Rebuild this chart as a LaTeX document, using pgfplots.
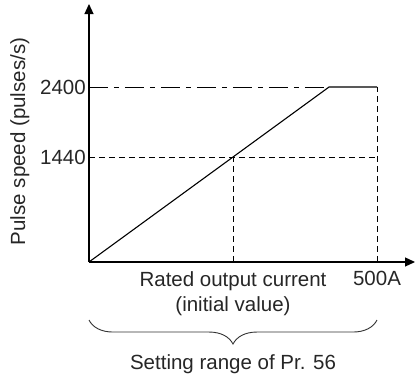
\documentclass[border=0pt]{standalone}
\usepackage{pgfplots}
\pgfplotsset{compat=1.18}
\usepackage{fontspec}
\setmainfont{Liberation Sans}
\usetikzlibrary{arrows.meta,decorations.pathreplacing}
\begin{document}
\begin{tikzpicture}[font=\fontsize{20.5}{25}\selectfont]
\useasboundingbox (-89pt,-118pt) rectangle (327pt,262pt);
\begin{axis}[
  at={(0,0)}, anchor=south west,
  x=0.576pt, y=0.0729pt,
  xmin=0, xmax=566, ymin=0, ymax=3539,
  axis lines=left,
  axis line style={line width=1.2pt, -{Triangle[length=10pt,width=9pt]}},
  enlargelimits=false,
  clip=false,
  major tick length=0pt,
  /pgf/number format/assume math mode=true,
  ytick={1440,2400},
  yticklabels={1440,2400},
  yticklabel style={anchor=east, inner sep=0pt, xshift=-3pt},
  xtick={250,500},
  xticklabels={{Rated output current\\(initial value)},{500A}},
  xticklabel style={anchor=north, inner sep=0pt, yshift=-9pt, align=center, text=black!85},
  yticklabel style={text=black!85},
  ylabel={Pulse speed (pulses/s)},
  ylabel style={at={(axis cs:-111,1653)}, anchor=base, rotate=0, text=black!85},
]
\addplot[black, line width=1pt, dash pattern=on 19pt off 6pt on 5pt off 6pt] coordinates {(0,2400) (416.67,2400)};
\addplot[black, line width=0.9pt, dash pattern=on 6pt off 4pt] coordinates {(0,1440) (500,1440)};
\addplot[black, line width=0.9pt, dash pattern=on 6pt off 4pt] coordinates {(250,0) (250,1440)};
\addplot[black, line width=0.9pt, dash pattern=on 6pt off 4pt] coordinates {(500,0) (500,2400)};
\addplot[black, line width=1.1pt] coordinates {(0,0) (416.67,2400) (500,2400)};
\draw[black!80, line width=0.9pt, decorate, decoration={brace, mirror, amplitude=24pt}] (axis cs:0,-796) -- (axis cs:500,-796);
\node[anchor=base, text=black!85] at (axis cs:250,-1481) {Setting range of Pr. 56};
\end{axis}
\end{tikzpicture}
\end{document}
